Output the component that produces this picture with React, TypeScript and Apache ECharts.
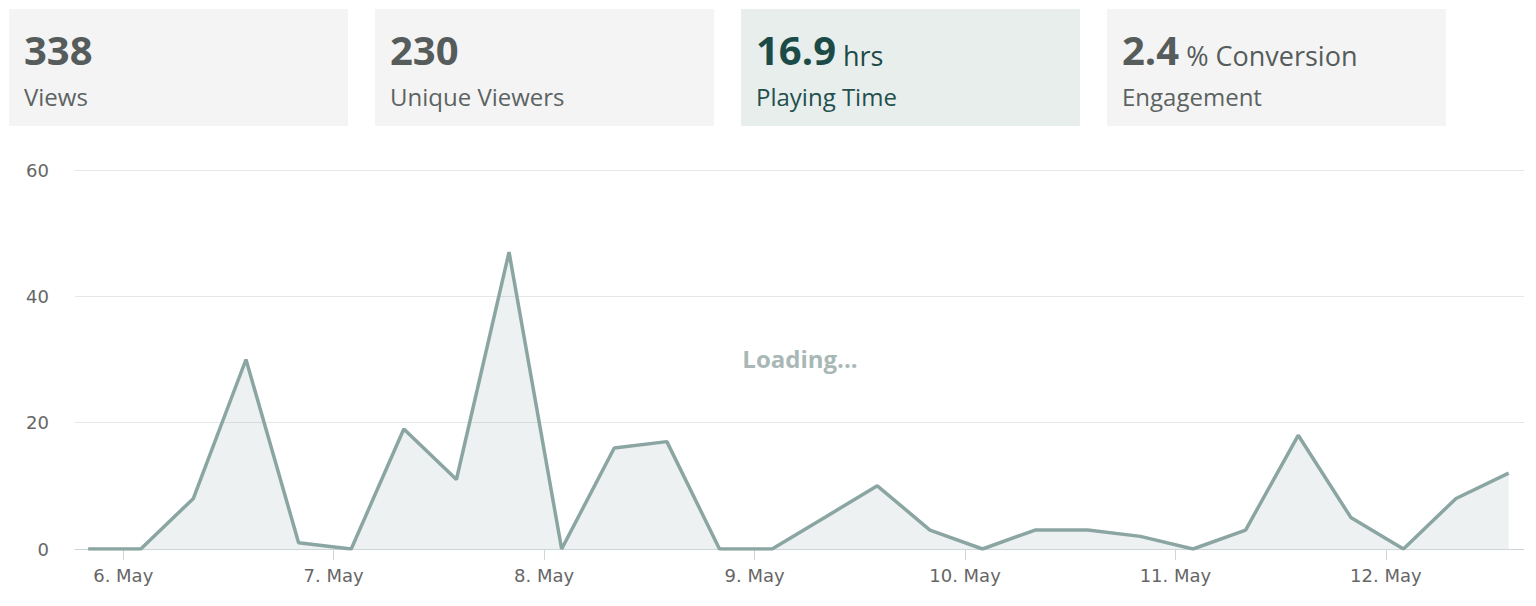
import React, { useEffect, useRef } from "react";
import * as echarts from "echarts";

// KPI cards
const kpiValues = ["338", "230", "16.9", "2.4"];
const kpiUnits = ["", "", "hrs", "% Conversion"];
const kpiLabels = ["Views", "Unique Viewers", "Playing Time", "Engagement"];
const activeKpi = 2;

// Series: one sample every 6 hours, first sample at 5 May 20:00
// (hours are relative to 6 May 00:00)
const firstSampleHour = -4;
const sampleStepHours = 6;
const views = [0, 0, 8, 30, 1, 0, 19, 11, 47, 0, 16, 17, 0, 0, 5, 10, 3, 0, 3, 3, 2, 0, 3, 18, 5, 0, 8, 12];

// X axis day ticks
const dayTickHours = [0, 24, 48, 72, 96, 120, 144];
const dayTickLabels = ["6. May", "7. May", "8. May", "9. May", "10. May", "11. May", "12. May"];

// Y axis
const yMin = 0;
const yMax = 60;
const yStep = 20;

const FONT = "'Open Sans', 'Noto Sans', sans-serif";

export default function App() {
  const ref = useRef<HTMLDivElement>(null);

  useEffect(() => {
    if (!ref.current) return;
    const chart = echarts.init(ref.current, null, { renderer: "svg" });

    const cardW = 339;
    const cardH = 117;
    const cardGap = 27;
    const cardX0 = 9;
    const cardY = 9;

    const graphics: any[] = [];
    kpiValues.forEach((val, i) => {
      const x = cardX0 + i * (cardW + cardGap);
      const active = i === activeKpi;
      const numColor = active ? "#1c4a47" : "#555c5b";
      const labColor = active ? "#234f4c" : "#5c6362";
      graphics.push({
        type: "rect",
        shape: { x, y: cardY, width: cardW, height: cardH },
        style: { fill: active ? "#e7eeec" : "#f4f4f4" },
        silent: true,
      });
      const unit = kpiUnits[i];
      graphics.push({
        type: "text",
        x: x + 15,
        y: 49,
        silent: true,
        style: {
          text: unit ? `{a|${val}}{b| ${unit}}` : `{a|${val}}`,
          fontFamily: FONT,
          fontSize: 27,
          fill: numColor,
          align: "left",
          verticalAlign: "middle",
          textAlign: "left",
          textVerticalAlign: "middle",
          rich: {
            a: { fontSize: 40, fontWeight: "bold", lineHeight: 40, fontFamily: FONT, fill: numColor, color: numColor },
            b: { fontSize: 27, fontWeight: "normal", lineHeight: 39, verticalAlign: "bottom", fontFamily: FONT, fill: numColor, color: numColor },
          },
        },
      });
      graphics.push({
        type: "text",
        x: x + 15,
        y: 96,
        silent: true,
        style: {
          text: kpiLabels[i],
          fontFamily: FONT,
          fontSize: 24,
          fill: labColor,
          align: "left",
          verticalAlign: "middle",
          textAlign: "left",
          textVerticalAlign: "middle",
        },
      });
    });

    graphics.push({
      type: "text",
      x: 800,
      y: 358,
      silent: true,
      z: 100,
      style: {
        text: "Loading...",
        fontFamily: FONT,
        fontSize: 24,
        fontWeight: "bold",
        fill: "#a9b8b6",
        align: "center",
        verticalAlign: "middle",
        textAlign: "center",
        textVerticalAlign: "middle",
      },
    });

    chart.setOption({
      animation: false,
      backgroundColor: "#ffffff",
      grid: { left: 75, right: 12, top: 170, bottom: 57, containLabel: false, outerBoundsMode: "none" },
      xAxis: {
        type: "value",
        min: -5.5,
        max: 159.75,
        axisLine: { show: true, lineStyle: { color: "#ccd6d8", width: 1 } },
        axisTick: { show: true, customValues: dayTickHours, length: 11, lineStyle: { color: "#ccd6d8" } },
        axisLabel: {
          customValues: dayTickHours,
          formatter: (v: number) => {
            const idx = dayTickHours.indexOf(v);
            return idx >= 0 ? dayTickLabels[idx] : "";
          },
          margin: 17,
          fontSize: 18,
          fontFamily: "'DejaVu Sans', sans-serif",
          color: "#666666",
        },
        splitLine: { show: false },
      },
      yAxis: {
        type: "value",
        min: yMin,
        max: yMax,
        interval: yStep,
        axisLine: { show: false },
        axisTick: { show: false },
        axisLabel: { margin: 26, fontSize: 18, fontFamily: "'DejaVu Sans', sans-serif", color: "#666666" },
        splitLine: { show: true, lineStyle: { color: "#e6e6e6", width: 1 } },
      },
      series: [
        {
          type: "line",
          data: views.map((v, i) => [firstSampleHour + i * sampleStepHours, v]),
          symbol: "none",
          showSymbol: false,
          silent: true,
          lineStyle: { color: "#8ba6a2", width: 3.5 },
          itemStyle: { color: "#8ba6a2" },
          areaStyle: { color: "rgba(139,166,162,0.22)" },
        },
      ],
      graphic: graphics,
    });

    return () => chart.dispose();
  }, []);

  return (
    <div
      ref={ref}
      style={{ position: "absolute", left: 0, top: 0, width: 1536, height: 606, background: "#fff" }}
    />
  );
}
